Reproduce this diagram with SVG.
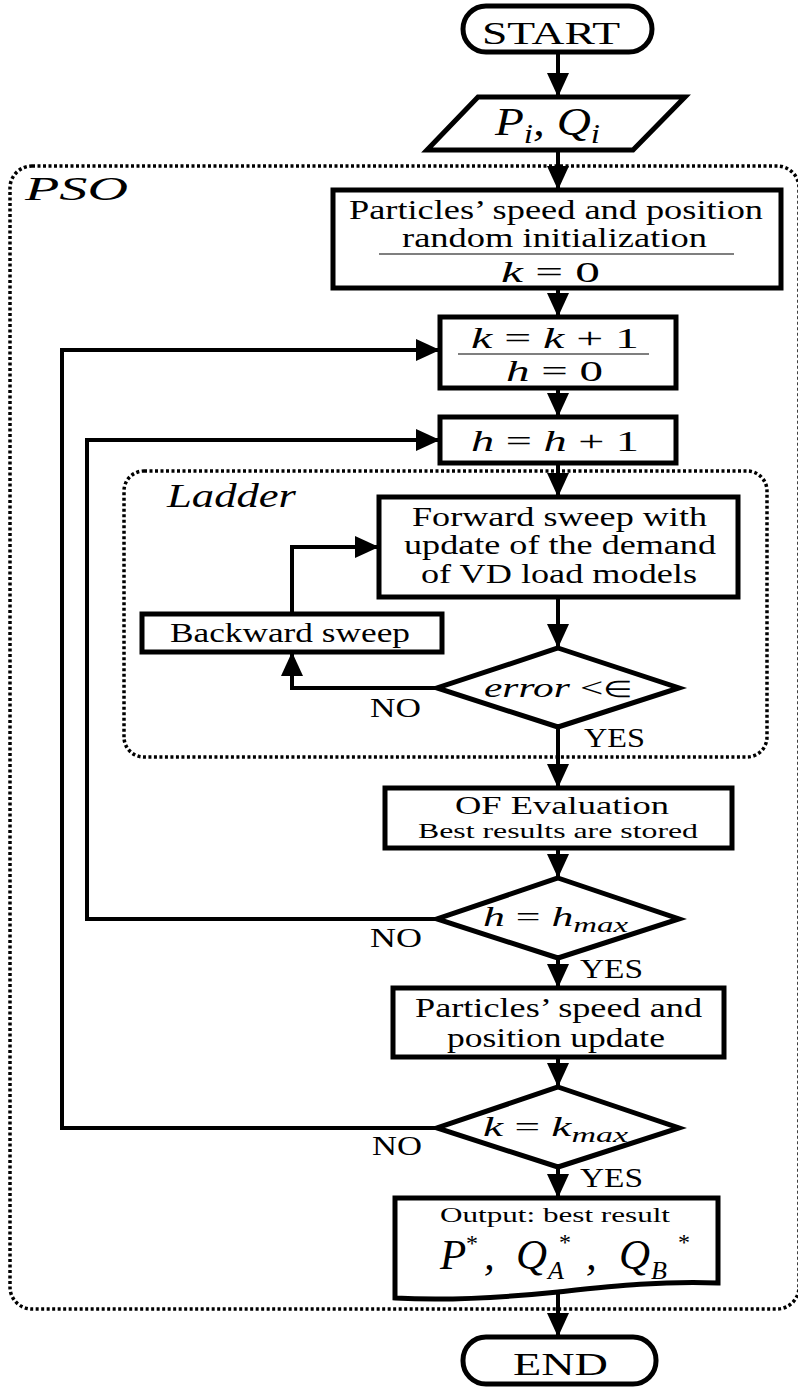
<svg xmlns="http://www.w3.org/2000/svg" width="798" height="1389" viewBox="0 0 798 1389">
<style>
.box{fill:#fff;stroke:#000;stroke-width:5}
.conn{fill:none;stroke:#000;stroke-width:4}
.dot{fill:none;stroke:#000;stroke-width:3.5;stroke-dasharray:3 2.5}
.t{font-family:"Liberation Serif","Times New Roman",serif;fill:#000}
.i{font-style:italic}
.rule{stroke:#555;stroke-width:1.5}
</style>
<defs>
<marker id="ah" markerUnits="userSpaceOnUse" markerWidth="24" markerHeight="22" viewBox="0 0 24 22" refX="24" refY="11" orient="auto">
<path d="M0,0 L24,11 L0,22 z" fill="#000"/>
</marker>
</defs>
<rect width="798" height="1389" fill="#fff"/>

<g id="pso-frame">
<rect class="dot" x="10" y="166" width="789" height="1143" rx="22"/>
<text class="t i" x="25" y="200" font-size="33" textLength="103" lengthAdjust="spacingAndGlyphs">PSO</text>
</g>
<g id="ladder-frame">
<rect class="dot" x="124" y="471" width="643" height="286" rx="20"/>
<text class="t i" x="167" y="507" font-size="33" textLength="129" lengthAdjust="spacingAndGlyphs">Ladder</text>
</g>

<g id="connectors">
<line class="conn" x1="558" y1="52" x2="558" y2="97" marker-end="url(#ah)"/>
<line class="conn" x1="558" y1="150" x2="558" y2="190" marker-end="url(#ah)"/>
<line class="conn" x1="558" y1="288" x2="558" y2="317" marker-end="url(#ah)"/>
<line class="conn" x1="558" y1="388" x2="558" y2="417" marker-end="url(#ah)"/>
<line class="conn" x1="558" y1="463" x2="558" y2="497" marker-end="url(#ah)"/>
<line class="conn" x1="558" y1="597" x2="558" y2="648" marker-end="url(#ah)"/>
<line class="conn" x1="558" y1="727" x2="558" y2="788" marker-end="url(#ah)"/>
<line class="conn" x1="558" y1="848" x2="558" y2="878" marker-end="url(#ah)"/>
<line class="conn" x1="558" y1="958" x2="558" y2="988" marker-end="url(#ah)"/>
<line class="conn" x1="558" y1="1057" x2="558" y2="1087" marker-end="url(#ah)"/>
<line class="conn" x1="558" y1="1167" x2="558" y2="1198" marker-end="url(#ah)"/>
<line class="conn" x1="558" y1="1292" x2="558" y2="1337" marker-end="url(#ah)"/>
<polyline class="conn" points="437,688 292,688 292,652" marker-end="url(#ah)"/>
<polyline class="conn" points="292,614 292,547 379,547" marker-end="url(#ah)"/>
<polyline class="conn" points="437,919 87,919 87,440 440,440" marker-end="url(#ah)"/>
<polyline class="conn" points="437,1128 62,1128 62,350 440,350" marker-end="url(#ah)"/>
<text class="t" x="370" y="717" font-size="27" textLength="51" lengthAdjust="spacingAndGlyphs">NO</text>
<text class="t" x="584" y="747" font-size="27" textLength="61" lengthAdjust="spacingAndGlyphs">YES</text>
<text class="t" x="370" y="947" font-size="27" textLength="52" lengthAdjust="spacingAndGlyphs">NO</text>
<text class="t" x="580" y="978" font-size="27" textLength="63" lengthAdjust="spacingAndGlyphs">YES</text>
<text class="t" x="372" y="1155" font-size="27" textLength="50" lengthAdjust="spacingAndGlyphs">NO</text>
<text class="t" x="580" y="1187" font-size="27" textLength="63" lengthAdjust="spacingAndGlyphs">YES</text>
</g>

<g id="start">
<rect class="box" x="463" y="6" width="189" height="46" rx="23"/>
<text class="t" x="482" y="44" font-size="31" textLength="138" lengthAdjust="spacingAndGlyphs">START</text>
</g>

<g id="input">
<polygon class="box" points="478,97 685,97 633,150 427,150"/>
<text class="t i" x="495" y="135" font-size="40" textLength="105" lengthAdjust="spacingAndGlyphs">P<tspan font-size="28" dy="8">i</tspan><tspan dy="-8">, Q</tspan><tspan font-size="28" dy="8">i</tspan></text>
</g>

<g id="init">
<rect class="box" x="333" y="190" width="448" height="98"/>
<text class="t" x="349" y="219" font-size="27" textLength="414" lengthAdjust="spacingAndGlyphs">Particles’ speed and position</text>
<text class="t" x="402" y="247" font-size="27" textLength="305" lengthAdjust="spacingAndGlyphs">random initialization</text>
<line class="rule" x1="379" y1="254" x2="734" y2="254"/>
<text class="t" x="501" y="282" font-size="30" textLength="99" lengthAdjust="spacingAndGlyphs"><tspan class="i">k</tspan> = 0</text>
</g>

<g id="k-update">
<rect class="box" x="440" y="317" width="236" height="71" stroke-width="6"/>
<text class="t" x="471" y="348" font-size="30" textLength="168" lengthAdjust="spacingAndGlyphs"><tspan class="i">k</tspan> = <tspan class="i">k</tspan> + 1</text>
<line class="rule" x1="458" y1="354" x2="649" y2="354"/>
<text class="t" x="506" y="381" font-size="30" textLength="97" lengthAdjust="spacingAndGlyphs"><tspan class="i">h</tspan> = 0</text>
</g>

<g id="h-update">
<rect class="box" x="440" y="417" width="236" height="46" stroke-width="6"/>
<text class="t" x="471" y="451" font-size="30" textLength="168" lengthAdjust="spacingAndGlyphs"><tspan class="i">h</tspan> = <tspan class="i">h</tspan> + 1</text>
</g>

<g id="forward">
<rect class="box" x="379" y="497" width="359" height="100" stroke-width="6"/>
<text class="t" x="412" y="526" font-size="27" textLength="295" lengthAdjust="spacingAndGlyphs">Forward sweep with</text>
<text class="t" x="404" y="554" font-size="27" textLength="312" lengthAdjust="spacingAndGlyphs">update of the demand</text>
<text class="t" x="421" y="583" font-size="27" textLength="276" lengthAdjust="spacingAndGlyphs">of VD load models</text>
</g>

<g id="backward">
<rect class="box" x="142" y="614" width="300" height="38"/>
<text class="t" x="170" y="642" font-size="27" textLength="240" lengthAdjust="spacingAndGlyphs">Backward sweep</text>
</g>

<g id="error-check">
<polygon class="box" points="558,648 679,688 558,727 437,688" stroke-width="6"/>
<text class="t" x="484" y="697" font-size="28" textLength="149" lengthAdjust="spacingAndGlyphs"><tspan class="i">error</tspan> &lt;<tspan font-size="23">∈</tspan></text>
</g>

<g id="of-eval">
<rect class="box" x="385" y="788" width="347" height="60" stroke-width="6"/>
<text class="t" x="455" y="814" font-size="26" textLength="214" lengthAdjust="spacingAndGlyphs">OF Evaluation</text>
<text class="t" x="418" y="838" font-size="22" textLength="280" lengthAdjust="spacingAndGlyphs">Best results are stored</text>
</g>

<g id="h-check">
<polygon class="box" points="558,878 679,919 558,958 437,919" stroke-width="6"/>
<text class="t" x="483" y="926" font-size="28" textLength="145" lengthAdjust="spacingAndGlyphs"><tspan class="i">h</tspan> = <tspan class="i">h</tspan><tspan class="i" font-size="21" dy="6">max</tspan></text>
</g>

<g id="pso-update">
<rect class="box" x="393" y="988" width="331" height="69" stroke-width="6"/>
<text class="t" x="415" y="1017" font-size="27" textLength="287" lengthAdjust="spacingAndGlyphs">Particles’ speed and</text>
<text class="t" x="447" y="1047" font-size="27" textLength="218" lengthAdjust="spacingAndGlyphs">position update</text>
</g>

<g id="k-check">
<polygon class="box" points="558,1087 679,1128 558,1167 437,1128" stroke-width="6"/>
<text class="t" x="483" y="1136" font-size="28" textLength="145" lengthAdjust="spacingAndGlyphs"><tspan class="i">k</tspan> = <tspan class="i">k</tspan><tspan class="i" font-size="21" dy="6">max</tspan></text>
</g>

<g id="output">
<path class="box" d="M395,1198 H718 V1283 C660,1281 615,1286 558,1292 C500,1298 450,1301 395,1298 Z" stroke-width="6"/>
<text class="t" x="440" y="1222" font-size="21" textLength="230" lengthAdjust="spacingAndGlyphs">Output:  best result</text>
<text class="t i" x="440" y="1269" font-size="43">P</text>
<text class="t" x="466" y="1251" font-size="24">*</text>
<text class="t i" x="484" y="1269" font-size="43">,</text>
<text class="t i" x="516" y="1269" font-size="43">Q</text>
<text class="t i" x="548" y="1279" font-size="26">A</text>
<text class="t" x="559" y="1250" font-size="24">*</text>
<text class="t i" x="586" y="1269" font-size="43">,</text>
<text class="t i" x="619" y="1269" font-size="43">Q</text>
<text class="t i" x="651" y="1279" font-size="26">B</text>
<text class="t" x="678" y="1250" font-size="24">*</text>
</g>

<g id="end">
<rect class="box" x="463" y="1337" width="193" height="47" rx="23"/>
<text class="t" x="513" y="1375" font-size="31" textLength="95" lengthAdjust="spacingAndGlyphs">END</text>
</g>
</svg>
